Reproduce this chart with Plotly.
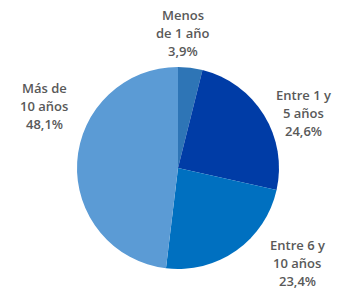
import plotly.graph_objects as go

categories = ["Menos de 1 año", "Entre 1 y 5 años", "Entre 6 y 10 años", "Más de 10 años"]
label_lines = [["Menos", "de 1 año"], ["Entre 1 y", "5 años"], ["Entre 6 y", "10 años"], ["Más de", "10 años"]]
values = [3.9, 24.6, 23.4, 48.1]
colors = ["#2E75B6", "#003CA6", "#0070C0", "#5B9BD5"]

W, H = 362, 292
# label anchor (center x, first-line center y) in pixels
label_pos = [(183, 15), (303, 95), (297, 245), (44, 88)]
line_gap = 18

fig = go.Figure(go.Pie(
    labels=categories, values=values, sort=False, direction="clockwise", rotation=0,
    marker=dict(colors=colors, line=dict(width=0)), textinfo="none", hoverinfo="label+percent",
    domain=dict(x=[77 / W, 279 / W], y=[23 / H, 225 / H]), showlegend=False,
))

anns = []
for lines, v, (cx, cy) in zip(label_lines, values, label_pos):
    texts = lines + [f"{v:.1f}".replace(".", ",") + "%"]
    for i, t in enumerate(texts):
        anns.append(dict(text=t, x=cx / W, y=1 - (cy + i * line_gap) / H, xref="paper", yref="paper",
                         showarrow=False, xanchor="center", yanchor="middle",
                         font=dict(family="Open Sans", size=13, color="#595959", weight=600)))

fig.update_layout(width=W, height=H, margin=dict(l=0, r=0, t=0, b=0),
                  paper_bgcolor="white", plot_bgcolor="white", annotations=anns)
fig.write_html("out.html")
